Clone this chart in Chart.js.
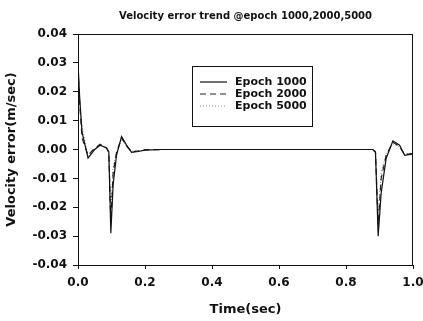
<!DOCTYPE html>
<html>
<head>
<meta charset="utf-8">
<script src="https://cdn.jsdelivr.net/npm/chart.js@4/dist/chart.umd.min.js"></script>
<style>
  html, body { margin: 0; padding: 0; background: #fff; }
  #wrap { width: 423px; height: 321px; }
</style>
</head>
<body>
<div id="wrap"><canvas id="velChart"></canvas></div>
<script>
// time samples (sec)
const times = [0, 0.005, 0.012, 0.03, 0.05, 0.066, 0.085, 0.092, 0.098, 0.105, 0.115, 0.13, 0.145, 0.16, 0.18, 0.2, 0.25, 0.4, 0.6, 0.8, 0.88, 0.888, 0.896, 0.905, 0.92, 0.94, 0.96, 0.975, 1.0];

const epoch1000 = [0.030, 0.018, 0.006, -0.003, 0.000, 0.0015, 0.0005, -0.001, -0.029, -0.012, -0.002, 0.0045, 0.0015, -0.001, -0.0007, -0.0002, 0, 0, 0, 0, 0, -0.001, -0.030, -0.015, -0.003, 0.003, 0.0015, -0.002, -0.0015];
const epoch2000 = [0.028, 0.016, 0.004, -0.002, 0.0005, 0.0018, 0.0006, -0.0008, -0.025, -0.008, -0.001, 0.004, 0.0012, -0.0008, -0.0005, -0.0001, 0, 0, 0, 0, 0, -0.0008, -0.026, -0.010, -0.002, 0.0025, 0.001, -0.0018, -0.0014];
const epoch5000 = [0.026, 0.015, 0.008, -0.0025, 0.0003, 0.0016, 0.0004, -0.0006, -0.022, -0.006, -0.0008, 0.0035, 0.001, -0.0006, -0.0004, -0.0001, 0, 0, 0, 0, 0, -0.0006, -0.022, -0.008, -0.0015, 0.002, 0.0008, -0.0015, -0.0012];

const seriesNames = ["Epoch 1000", "Epoch 2000", "Epoch 5000"];
const yTicks = [-0.04, -0.03, -0.02, -0.01, 0.00, 0.01, 0.02, 0.03, 0.04];
const xTicks = [0.0, 0.2, 0.4, 0.6, 0.8, 1.0];
const chartTitle = "Velocity error trend @epoch 1000,2000,5000";

function toPoints(vals) {
    return vals.map((v, i) => ({ x: times[i], y: v }));
}

// frame round the plot area + title centred over it
const framePlugin = {
    id: "frame",
    afterDraw(chart) {
        const a = chart.chartArea, ctx = chart.ctx;
        ctx.save();
        ctx.strokeStyle = "#111";
        ctx.lineWidth = 1;
        ctx.strokeRect(a.left + 0.5, a.top + 0.5, a.right - a.left - 1, a.bottom - a.top);
        ctx.fillStyle = "#111";
        ctx.font = "bold 10px 'DejaVu Sans'";
        ctx.textAlign = "center";
        ctx.textBaseline = "middle";
        ctx.fillText(chartTitle, (a.left + a.right) / 2, 16);
        ctx.restore();
    }
};

// boxed legend inside the plot
const boxLegend = {
    id: "boxLegend",
    afterDraw(chart) {
        const ctx = chart.ctx;
        const x0 = 192, y0 = 66, w = 120, h = 60;
        ctx.save();
        ctx.fillStyle = "#fff";
        ctx.fillRect(x0, y0, w, h);
        ctx.strokeStyle = "#111";
        ctx.lineWidth = 1;
        ctx.strokeRect(x0 + 0.5, y0 + 0.5, w, h);
        ctx.font = "bold 11px 'DejaVu Sans'";
        ctx.textBaseline = "middle";
        chart.data.datasets.forEach((ds, i) => {
            const y = 82 + i * 12;
            ctx.strokeStyle = ds.borderColor;
            ctx.lineWidth = ds.borderWidth;
            ctx.setLineDash(ds.borderDash || []);
            ctx.beginPath();
            ctx.moveTo(200, y);
            ctx.lineTo(227, y);
            ctx.stroke();
            ctx.setLineDash([]);
            ctx.fillStyle = "#111";
            ctx.fillText(ds.label, 235, y);
        });
        ctx.restore();
    }
};

const ctx = document.getElementById("velChart");

new Chart(ctx, {
    type: "line",
    data: {
        datasets: [{
            label: seriesNames[0],
            data: toPoints(epoch1000),
            borderColor: "#111",
            borderWidth: 1.2
        }, {
            label: seriesNames[1],
            data: toPoints(epoch2000),
            borderColor: "#222",
            borderWidth: 1.2,
            borderDash: [6, 4]
        }, {
            label: seriesNames[2],
            data: toPoints(epoch5000),
            borderColor: "#888",
            borderWidth: 1,
            borderDash: [1, 2]
        }]
    },
    options: {
        responsive: true,
        maintainAspectRatio: false,
        animation: false,
        elements: { point: { radius: 0 }, line: { tension: 0 } },
        layout: { padding: { top: 34, right: 10 } },
        plugins: {
            legend: { display: false },
            tooltip: { enabled: false },
            title: { display: false }
        },
        scales: {
            x: {
                type: "linear",
                min: 0,
                max: 1,
                afterBuildTicks: s => { s.ticks = xTicks.map(v => ({ value: v })); },
                afterFit: s => { s.height = 56; s.paddingRight = 0; s.paddingLeft = 0; },
                grid: { display: true, drawOnChartArea: false, tickLength: 4, color: "#111" },
                border: { color: "#111" },
                ticks: {
                    color: "#111",
                    padding: 7,
                    maxRotation: 0,
                    font: { family: "DejaVu Sans", size: 12, weight: "bold" },
                    callback: v => v.toFixed(1)
                },
                title: {
                    display: true,
                    text: "Time(sec)",
                    color: "#111",
                    font: { family: "DejaVu Sans", size: 13, weight: "bold" },
                    padding: { top: 4 }
                }
            },
            y: {
                min: -0.04,
                max: 0.04,
                afterBuildTicks: s => { s.ticks = yTicks.map(v => ({ value: v })); },
                afterFit: s => { s.width = 78; },
                grid: { display: true, drawOnChartArea: false, tickLength: 5, color: "#111" },
                border: { color: "#111" },
                ticks: {
                    color: "#111",
                    padding: 6,
                    font: { family: "DejaVu Sans", size: 12, weight: "bold" },
                    callback: v => v.toFixed(2)
                },
                title: {
                    display: true,
                    text: "Velocity error(m/sec)",
                    color: "#111",
                    font: { family: "DejaVu Sans", size: 13, weight: "bold" },
                    padding: { top: 4, bottom: 0 }
                }
            }
        }
    },
    plugins: [framePlugin, boxLegend]
});
</script>
</body>
</html>
